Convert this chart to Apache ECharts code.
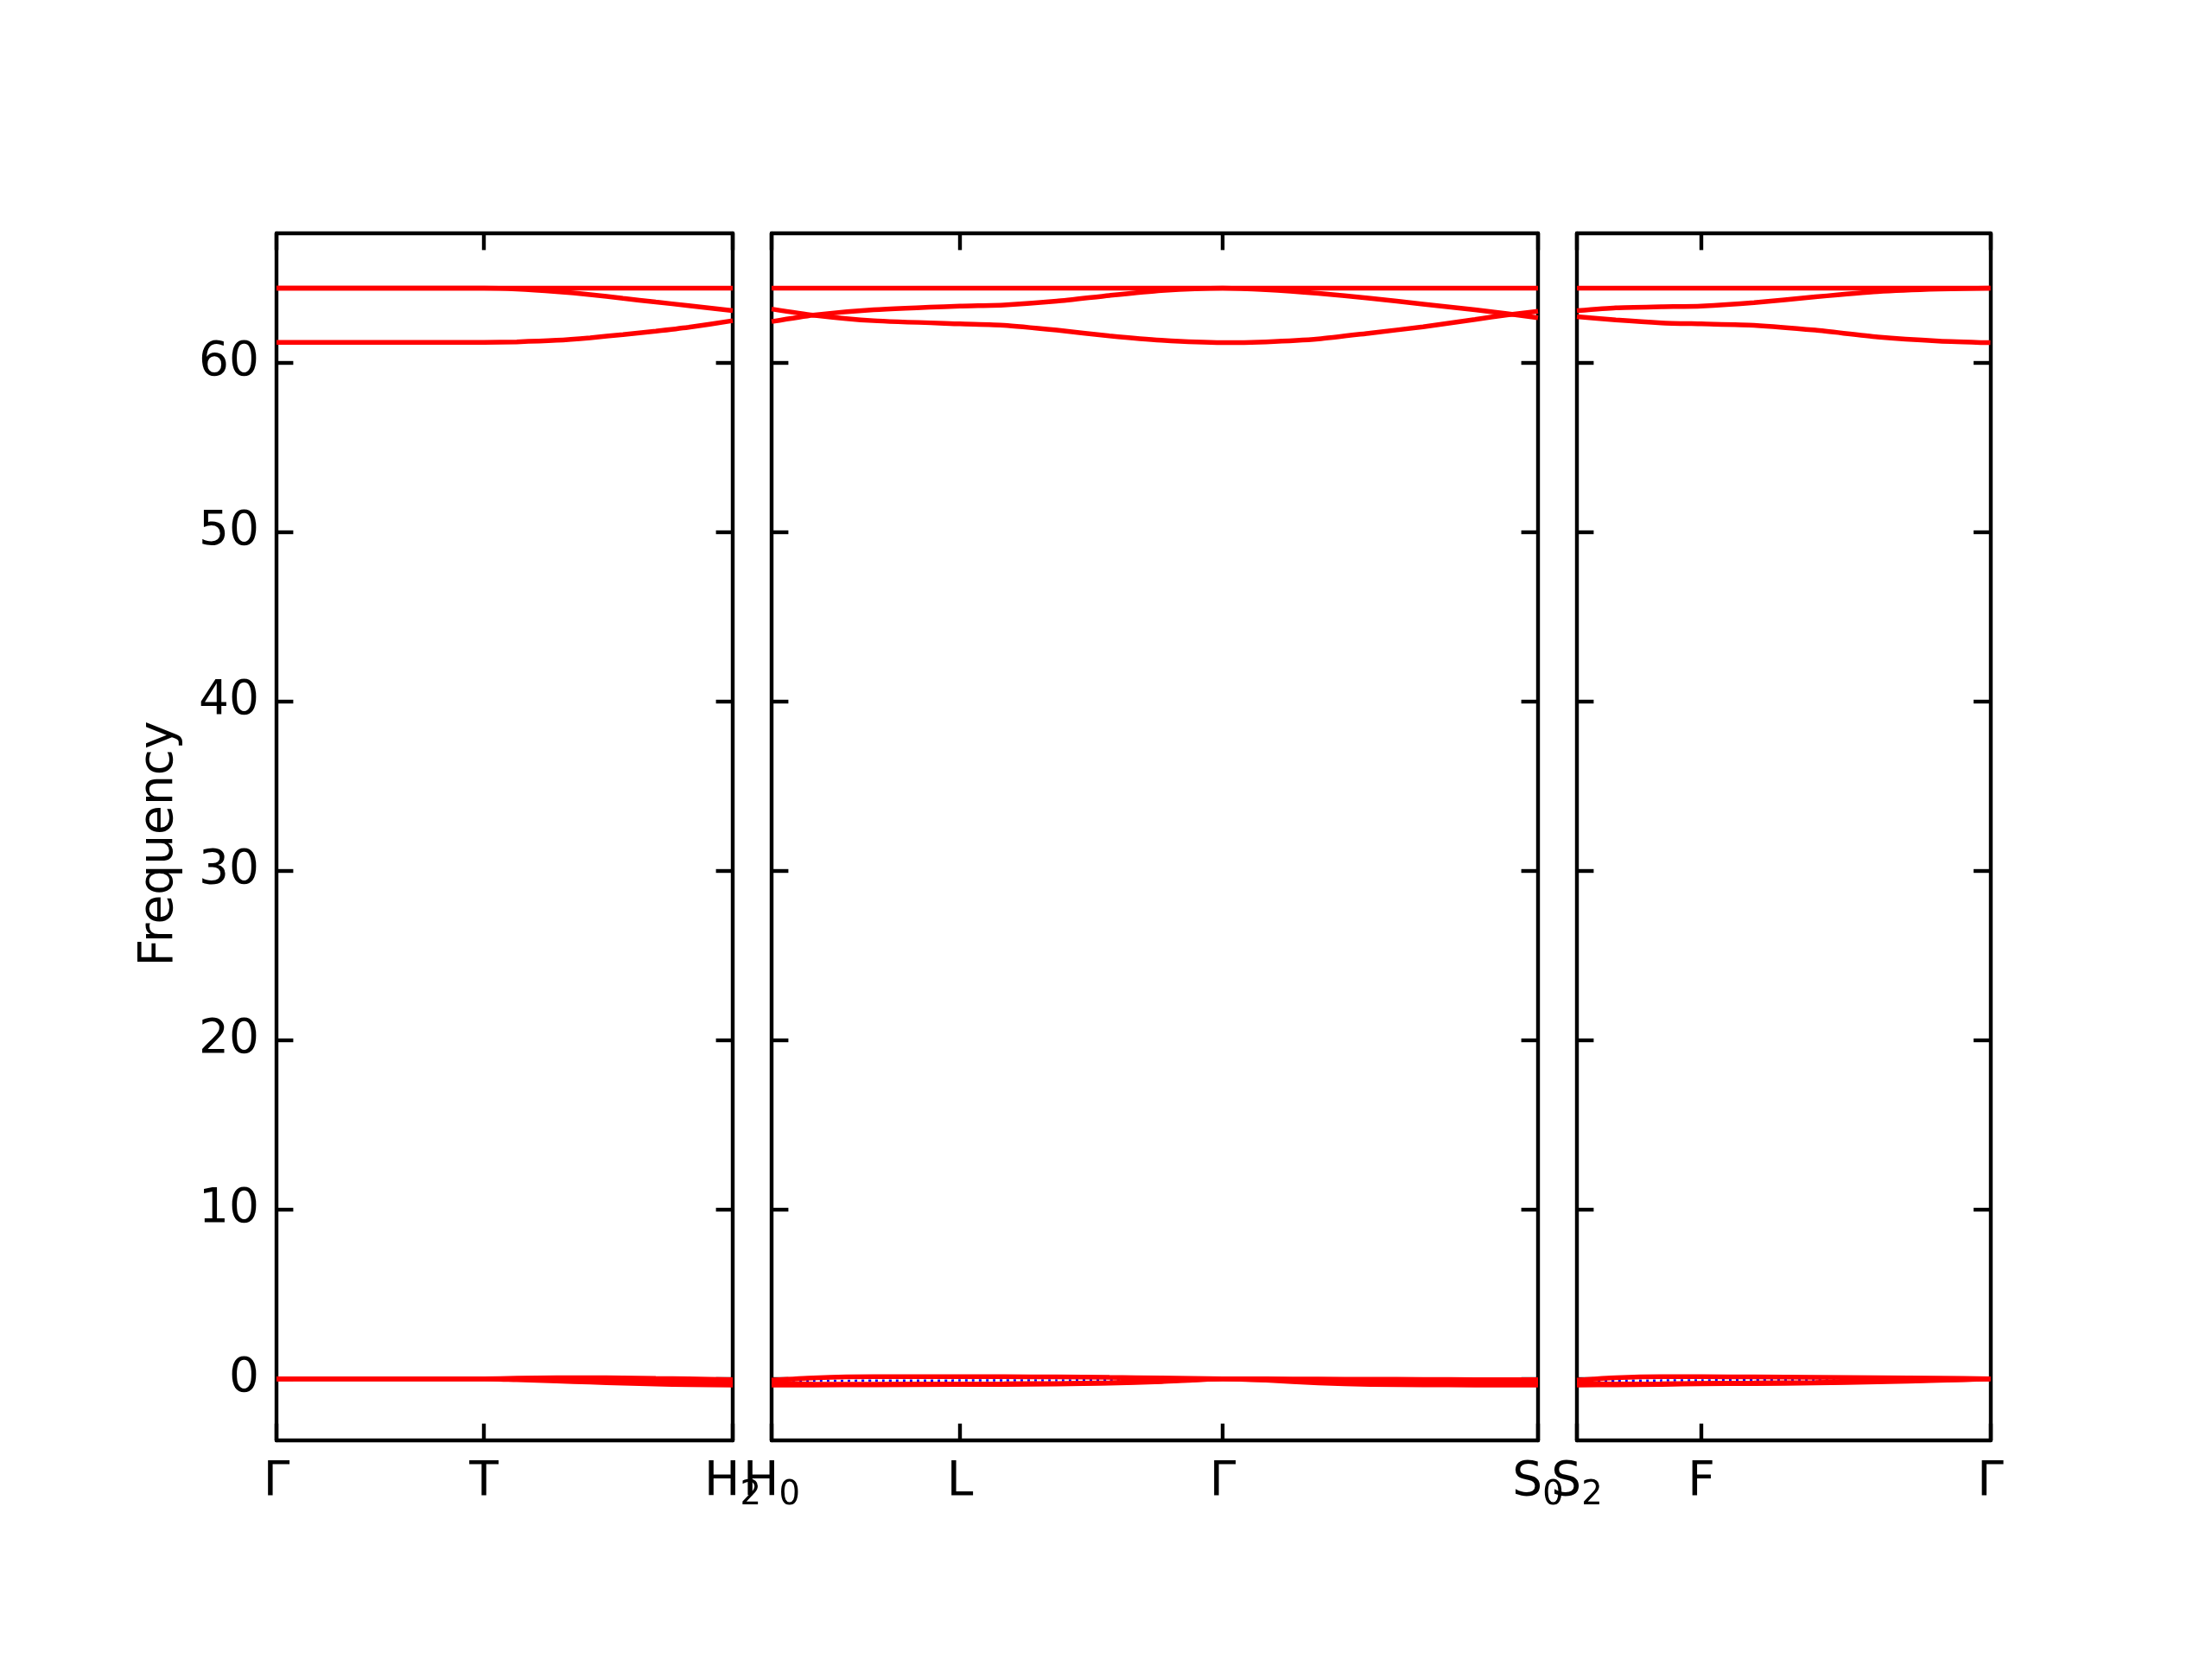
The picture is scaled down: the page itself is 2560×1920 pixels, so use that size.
<!DOCTYPE html>
<html>
<head>
<meta charset="utf-8">
<script src="https://cdn.jsdelivr.net/npm/echarts@6/dist/echarts.min.js"></script>
<style>
html,body{margin:0;padding:0;background:#fff;}
#chart{width:2560px;height:1920px;}
</style>
</head>
<body>
<div id="chart"></div>
<script>
// ---------------- data ----------------
const yTicks = [0, 10, 20, 30, 40, 50, 60];
const yMin = -3.64, yMax = 67.64;

// Panel 1 : Γ - T - H2
const p1Ticks = [0, 0.240, 0.528];
const p1Names = ['Γ', 'T', 'H'];
const p1Subs  = ['', '', '2'];
const p1K   = [0, 0.06, 0.12, 0.18, 0.240, 0.278, 0.324, 0.363, 0.401, 0.439, 0.477, 0.528];
const p1OptA = [64.4, 64.4, 64.4, 64.4, 64.4, 64.4, 64.4, 64.4, 64.4, 64.4, 64.4, 64.4];
const p1OptB = [64.4, 64.4, 64.4, 64.4, 64.4, 64.35, 64.2, 64.02, 63.8, 63.58, 63.37, 63.07];
const p1OptC = [61.2, 61.2, 61.2, 61.2, 61.2, 61.23, 61.32, 61.47, 61.66, 61.86, 62.09, 62.48];
const p1Ac1  = [0, 0, 0, 0, 0, 0.03, 0.06, 0.06, 0.05, 0.02, -0.01, -0.05];
const p1Ac2  = [0, 0, 0, 0, 0, -0.02, -0.05, -0.08, -0.11, -0.14, -0.17, -0.2];
const p1Ac3  = [0, 0, 0, 0, 0, -0.06, -0.13, -0.2, -0.26, -0.31, -0.35, -0.38];

// Panel 2 : H0 - L - Γ - S0
const p2Ticks = [0.528, 0.746, 1.050, 1.415];
const p2Names = ['H', 'L', 'Γ', 'S'];
const p2Subs  = ['0', '', '', '0'];
const p2K   = [0.528, 0.576, 0.646, 0.746, 0.797, 0.858, 0.919, 0.979, 1.050, 1.100, 1.161, 1.221, 1.282, 1.342, 1.379, 1.415];
const p2OptA = [64.4, 64.4, 64.4, 64.4, 64.4, 64.4, 64.4, 64.4, 64.4, 64.4, 64.4, 64.4, 64.4, 64.4, 64.4, 64.4];
const p2OptB = [63.17, 62.81, 62.48, 62.29, 62.21, 61.92, 61.58, 61.32, 61.18, 61.23, 61.40, 61.75, 62.12, 62.55, 62.82, 63.03];
const p2OptC = [62.43, 62.81, 63.12, 63.34, 63.41, 63.63, 63.97, 64.26, 64.40, 64.31, 64.09, 63.80, 63.46, 63.12, 62.89, 62.65];
const p2Ac1  = [-0.08, 0.05, 0.12, 0.12, 0.12, 0.11, 0.08, 0.05, 0, -0.01, -0.02, -0.03, -0.04, -0.05, -0.05, -0.05];
const p2Ac2  = [-0.25, -0.31, -0.32, -0.31, -0.30, -0.28, -0.23, -0.14, 0, -0.05, -0.16, -0.22, -0.24, -0.25, -0.25, -0.25];
const p2Ac3  = [-0.37, -0.37, -0.36, -0.34, -0.33, -0.31, -0.26, -0.17, 0, -0.08, -0.25, -0.34, -0.36, -0.37, -0.37, -0.37];
const p2Dot  = [-0.05, -0.12, -0.11, -0.10, -0.10, -0.09, -0.08, -0.05, 0, -0.03, -0.08, -0.12, -0.14, -0.12, -0.08, -0.05];

// Panel 3 : S2 - F - Γ
const p3Ticks = [1.415, 1.559, 1.8935];
const p3Names = ['S', 'F', 'Γ'];
const p3Subs  = ['2', '', ''];
const p3K   = [1.415, 1.460, 1.513, 1.559, 1.620, 1.691, 1.763, 1.834, 1.8935];
const p3OptA = [64.4, 64.4, 64.4, 64.4, 64.4, 64.4, 64.4, 64.4, 64.4];
const p3OptB = [63.07, 63.24, 63.30, 63.34, 63.54, 63.89, 64.20, 64.35, 64.40];
const p3OptC = [62.72, 62.52, 62.35, 62.29, 62.21, 61.92, 61.52, 61.28, 61.18];
const p3Ac1  = [-0.08, 0.06, 0.12, 0.12, 0.11, 0.09, 0.06, 0.03, 0];
const p3Ac2  = [-0.25, -0.31, -0.30, -0.27, -0.25, -0.22, -0.15, -0.07, 0];
const p3Ac3  = [-0.37, -0.36, -0.33, -0.30, -0.28, -0.25, -0.18, -0.10, 0];
const p3Dot  = [-0.2, -0.11, -0.10, -0.09, -0.08, -0.07, -0.05, -0.03, 0];

// ---------------- chart ----------------
const FONT = 'DejaVu Sans';
const SPINE = 4.4, TICKLEN = 19.4, LINEW = 5.5;

const panels = [
  {k: p1K, ticks: p1Ticks, names: p1Names, subs: p1Subs, bands: [p1OptA, p1OptB, p1OptC, p1Ac1, p1Ac2, p1Ac3], dot: null,
   grid: {left: 320, width: 528}},
  {k: p2K, ticks: p2Ticks, names: p2Names, subs: p2Subs, bands: [p2OptA, p2OptB, p2OptC, p2Ac1, p2Ac2, p2Ac3], dot: p2Dot,
   grid: {left: 893, width: 887}},
  {k: p3K, ticks: p3Ticks, names: p3Names, subs: p3Subs, bands: [p3OptA, p3OptB, p3OptC, p3Ac1, p3Ac2, p3Ac3], dot: p3Dot,
   grid: {left: 1825, width: 478.5}}
];

const grids = [], xAxes = [], yAxes = [], series = [];
const richStyles = {
  m: {fontSize: 55, fontFamily: FONT, color: '#000', lineHeight: 80},
  s: {fontSize: 38.5, fontFamily: FONT, color: '#000', lineHeight: 80, padding: [30, 0, 0, 0]}
};

panels.forEach((p, gi) => {
  grids.push({left: p.grid.left, width: p.grid.width, top: 270, height: 1397, containLabel: false});
  const xmin = p.k[0], xmax = p.k[p.k.length - 1];
  const fmt = (v) => {
    let best = 0, bd = Infinity;
    p.ticks.forEach((t, i) => { const d = Math.abs(t - v); if (d < bd) { bd = d; best = i; } });
    return '{m|' + p.names[best] + '}' + (p.subs[best] ? '{s|' + p.subs[best] + '}' : '');
  };
  // bottom x axis
  xAxes.push({
    type: 'value', gridIndex: gi, position: 'bottom', min: xmin, max: xmax,
    axisLine: {show: true, onZero: false, lineStyle: {color: '#000', width: SPINE}},
    axisTick: {show: true, inside: true, length: TICKLEN, customValues: p.ticks, lineStyle: {color: '#000', width: SPINE}},
    axisLabel: {show: true, customValues: p.ticks, margin: 9, formatter: fmt, rich: richStyles, showMinLabel: true, showMaxLabel: true},
    splitLine: {show: false}
  });
  // top x axis
  xAxes.push({
    type: 'value', gridIndex: gi, position: 'top', min: xmin, max: xmax,
    axisLine: {show: true, onZero: false, lineStyle: {color: '#000', width: SPINE}},
    axisTick: {show: true, inside: true, length: TICKLEN, customValues: p.ticks, lineStyle: {color: '#000', width: SPINE}},
    axisLabel: {show: false},
    splitLine: {show: false}
  });
  // left y axis
  yAxes.push({
    type: 'value', gridIndex: gi, position: 'left', min: yMin, max: yMax,
    name: gi === 0 ? 'Frequency' : '', nameLocation: 'middle', nameRotate: 90, nameGap: 108,
    nameTextStyle: {fontSize: 55, fontFamily: FONT, color: '#000', padding: [0, 16, 0, 0]},
    axisLine: {show: true, onZero: false, lineStyle: {color: '#000', width: SPINE}},
    axisTick: {show: true, inside: true, length: TICKLEN, customValues: yTicks, lineStyle: {color: '#000', width: SPINE}},
    axisLabel: {show: gi === 0, customValues: yTicks, margin: 20, fontSize: 55, fontFamily: FONT, color: '#000', padding: [8, 0, 0, 0]},
    splitLine: {show: false}
  });
  // right y axis
  yAxes.push({
    type: 'value', gridIndex: gi, position: 'right', min: yMin, max: yMax,
    axisLine: {show: true, onZero: false, lineStyle: {color: '#000', width: SPINE}},
    axisTick: {show: true, inside: true, length: TICKLEN, customValues: yTicks, lineStyle: {color: '#000', width: SPINE}},
    axisLabel: {show: false},
    splitLine: {show: false}
  });
  const xi = gi * 2, yi = gi * 2;
  if (p.dot) {
    series.push({
      type: 'line', xAxisIndex: xi, yAxisIndex: yi, showSymbol: false, symbol: 'none', z: 1,
      data: p.k.map((x, i) => [x, p.dot[i]]),
      lineStyle: {color: '#0000ff', width: 2.5, type: [3, 5]}, smooth: 0.2
    });
  }
  p.bands.forEach((b) => {
    series.push({
      type: 'line', xAxisIndex: xi, yAxisIndex: yi, showSymbol: false, symbol: 'none', z: 2,
      data: p.k.map((x, i) => [x, b[i]]),
      lineStyle: {color: '#ff0000', width: LINEW}, smooth: 0.2
    });
  });
});

const chart = echarts.init(document.getElementById('chart'), null, {renderer: 'canvas'});
chart.setOption({
  animation: false,
  backgroundColor: '#ffffff',
  grid: grids,
  xAxis: xAxes,
  yAxis: yAxes,
  series: series
});
</script>
</body>
</html>
